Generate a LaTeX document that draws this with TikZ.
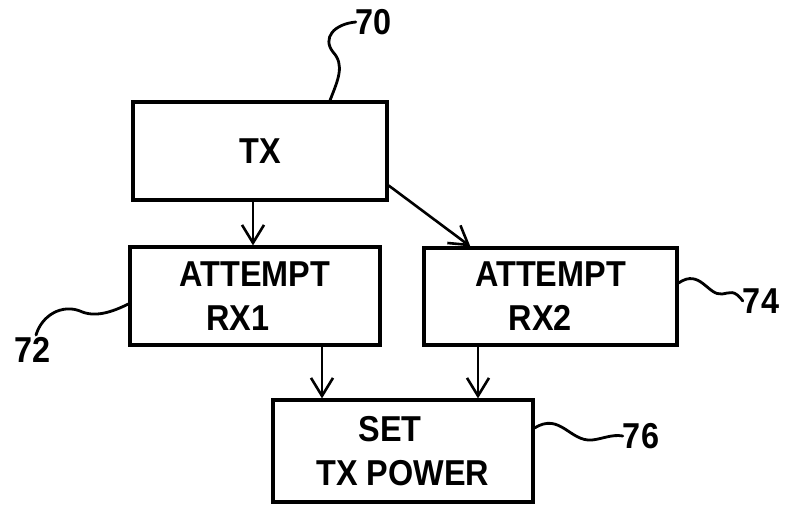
\documentclass[tikz,border=0pt]{standalone}
\usepackage{fontspec}
\setmainfont[FakeStretch=0.9]{Liberation Sans}
\usetikzlibrary{arrows.meta}
\begin{document}
\begin{tikzpicture}[x=1pt,y=-1pt,
  box/.style={draw,line width=3.2pt,inner sep=0pt,align=center,
    font=\fontsize{36}{44}\selectfont\bfseries},
  lbl/.style={inner sep=0pt,font=\fontsize{36}{36}\selectfont\bfseries},
  conn/.style={line width=2.6pt,-{Straight Barb[length=18pt,width=22pt,line width=2.6pt]}},
  lead/.style={line width=2.8pt,line cap=round}]
\useasboundingbox (0,0) rectangle (785,504);
\node[box,minimum width=254pt,minimum height=98pt] (tx) at (260,151) {TX};
\node[box,minimum width=250pt,minimum height=98pt] (rx1) at (255,296) {ATTEMPT\\RX1\hspace*{34pt}};
\node[box,minimum width=253pt,minimum height=97pt] (rx2) at (550.5,296.5) {ATTEMPT\\RX2\hspace*{20pt}};
\node[box,minimum width=260pt,minimum height=102pt] (set) at (403,451) {SET\hspace*{26pt}\\TX POWER};
\node[lbl] (l70) at (374,22) {70};
\node[lbl] (l72) at (33,350) {72};
\node[lbl] (l74) at (761,301) {74};
\node[lbl] (l76) at (641,436) {76};
\draw[conn] (tx.south -| 253,0) -- (rx1.north -| 253,0);
\draw[conn] (tx.-15) -- (rx2.148);
\draw[conn] (rx1.south -| 322,0) -- (set.north -| 322,0);
\draw[conn] (rx2.south -| 478,0) -- (set.north -| 478,0);
\draw[lead] (tx.north -| 330,0) .. controls (338,80) and (345,65) .. (333,52)
  .. controls (322,38) and (334,24) .. (l70.west);
\draw[lead] (rx1.west |- 0,304) .. controls (112,312) and (95,318) .. (80,311)
  .. controls (62,304) and (42,315) .. (36,335);
\draw[lead] (rx2.east |- 0,283) .. controls (700,268) and (708,296) .. (722,294)
  .. controls (730,293) and (734,289) .. (l74.west);
\draw[lead] (set.east |- 0,428) .. controls (560,412) and (570,442) .. (592,440)
  .. controls (602,439) and (612,434) .. (l76.west);
\end{tikzpicture}
\end{document}
